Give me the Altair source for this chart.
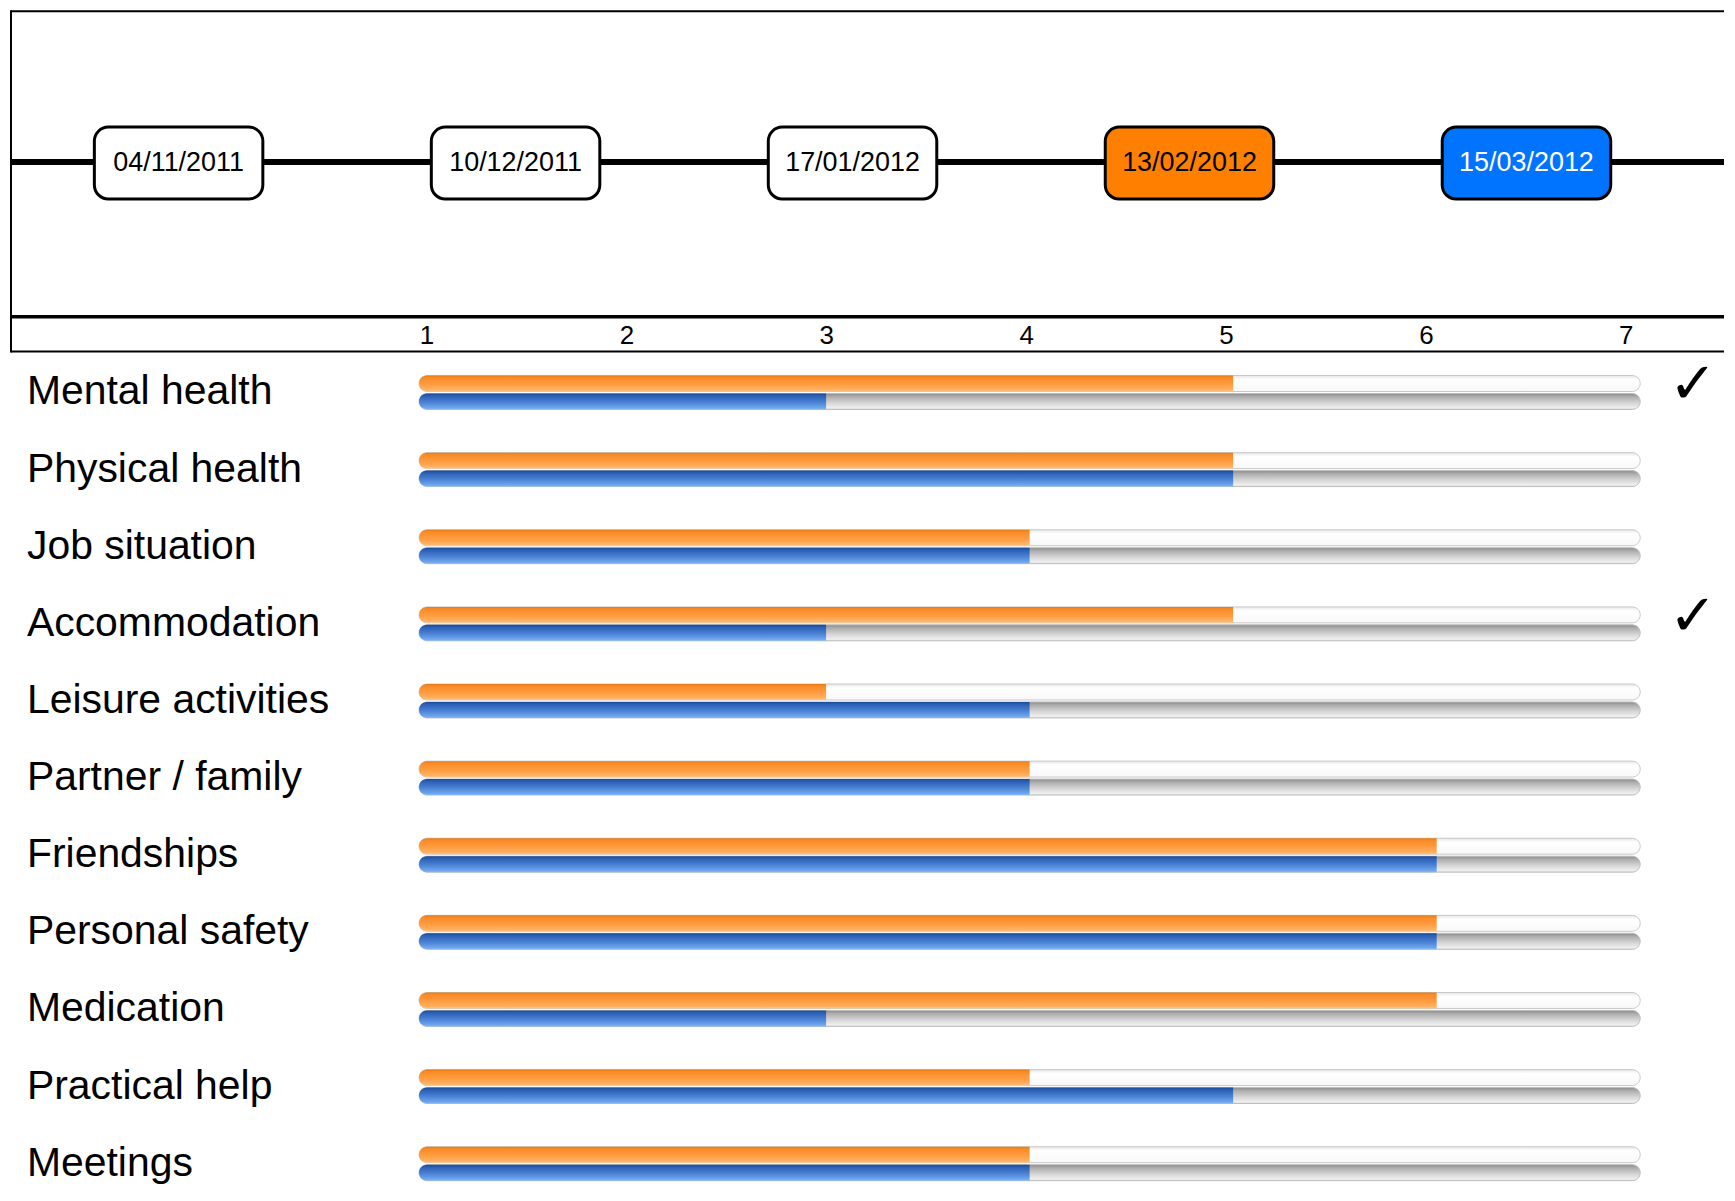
import altair as alt
import pandas as pd

# ---------------- data ----------------
categories = ["Mental health", "Physical health", "Job situation", "Accommodation",
              "Leisure activities", "Partner / family", "Friendships", "Personal safety",
              "Medication", "Practical help", "Meetings"]
orange_values = [4, 4, 3, 4, 2, 3, 5, 5, 5, 3, 3]   # 13/02/2012 assessment
blue_values = [2, 4, 3, 2, 3, 3, 5, 5, 2, 4, 3]     # 15/03/2012 assessment
checked = ["Mental health", "Accommodation"]
scale_max = 6

dates = ["04/11/2011", "10/12/2011", "17/01/2012", "13/02/2012", "15/03/2012"]
date_roles = ["other", "other", "other", "previous", "current"]
tick_labels = ["1", "2", "3", "4", "5", "6", "7"]

# ---------------- layout ----------------
W = 1719
H_TOP = 345
H_BOT = 840
FONT = "Liberation Sans"

one = pd.DataFrame({"k": [0]})
dates_df = pd.DataFrame({"date": dates, "pos": list(range(1, len(dates) + 1)), "role": date_roles})
ticks_df = pd.DataFrame({"tick": [int(t) for t in tick_labels], "label": tick_labels})

rows = []
for c, o, b in zip(categories, orange_values, blue_values):
    rows.append({"category": c, "series": "orange", "zero": 0, "value": o})
    rows.append({"category": c, "series": "blue", "zero": 0, "value": b})
bars_df = pd.DataFrame(rows)
tracks_df = pd.DataFrame({"category": categories, "zero": 0, "max": scale_max})
checks_df = pd.DataFrame({"category": checked})


def grad(stops):
    return {"gradient": "linear", "x1": 0, "x2": 0, "y1": 0, "y2": 1,
            "stops": [{"offset": o, "color": c} for o, c in stops]}


g_orange = grad([(0, "#E27A14"), (0.12, "#F88A26"), (0.55, "#FF9C40"), (0.9, "#FFB264"), (1, "#FFC58A")])
g_blue = grad([(0, "#1B4A98"), (0.15, "#2B5FB5"), (0.6, "#4F86D8"), (0.9, "#6FA6EE"), (1, "#86B8F4")])
g_gray = grad([(0, "#8A8A8A"), (0.2, "#ADADAD"), (0.6, "#D6D6D6"), (0.9, "#EFEFEF"), (1, "#DCDCDC")])
g_white = grad([(0, "#E6E6E6"), (0.25, "#FFFFFF"), (1, "#F8F8F8")])

# ---------------- top timeline ----------------
def hrule(y, sw):
    return alt.Chart(one).mark_rule(color="black", strokeWidth=sw).encode(
        x=alt.value(2), x2=alt.value(W), y=alt.value(y))

left_line = alt.Chart(one).mark_rule(color="black", strokeWidth=2).encode(
    x=alt.value(2), y=alt.value(0), y2=alt.value(343))

xbox = alt.Scale(domain=[1, 5], range=[170, 1521])

boxes = alt.Chart(dates_df).transform_calculate(
    x0="datum.pos - 0.25", x1="datum.pos + 0.25"
).mark_rect(cornerRadius=14, stroke="black", strokeWidth=3).encode(
    x=alt.X("x0:Q", scale=xbox, axis=None),
    x2="x1:Q",
    y=alt.value(117), y2=alt.value(189),
    color=alt.Color("role:N", scale=alt.Scale(domain=["other", "previous", "current"],
                                               range=["white", "#FF8000", "#0073FF"]), legend=None),
)

box_text = alt.Chart(dates_df).mark_text(fontSize=27, font=FONT, baseline="middle", align="center").encode(
    x=alt.X("pos:Q", scale=xbox, axis=None),
    y=alt.value(153),
    text="date:N",
    color=alt.Color("role:N", scale=alt.Scale(domain=["other", "previous", "current"],
                                               range=["black", "black", "white"]), legend=None),
)

tick_text = alt.Chart(ticks_df).mark_text(fontSize=26, font=FONT, baseline="middle", color="black").encode(
    x=alt.X("tick:Q", scale=alt.Scale(domain=[1, 7], range=[419, 1621]), axis=None),
    y=alt.value(326),
    text="label:N",
)

top = alt.layer(
    hrule(1, 2), left_line, hrule(152, 6), boxes, box_text, hrule(307, 3.5), hrule(342, 2), tick_text
).resolve_scale(x="independent", color="independent").properties(width=W, height=H_TOP)

# ---------------- bottom bars ----------------
ybase = alt.Y("category:N", sort=categories,
              scale=alt.Scale(domain=categories, range=[-0.65, 849.65], paddingInner=0, paddingOuter=0),
              axis=None)
xbar = alt.Scale(domain=[0, scale_max], range=[411, 1635])

orange_track = alt.Chart(tracks_df).mark_bar(
    height=16, yOffset=-9, cornerRadius=8, fill=g_white, stroke="#C8C8C8", strokeWidth=1
).encode(x=alt.X("zero:Q", scale=xbar, axis=None), x2="max:Q", y=ybase)

blue_track = alt.Chart(tracks_df).mark_bar(
    height=16, yOffset=9, cornerRadius=8, fill=g_gray, stroke="#BDBDBD", strokeWidth=1
).encode(x=alt.X("zero:Q", scale=xbar, axis=None), x2="max:Q", y=ybase)

orange_bar = alt.Chart(bars_df).transform_filter(alt.datum.series == "orange").mark_bar(
    height=16, yOffset=-9, cornerRadiusTopLeft=8, cornerRadiusBottomLeft=8, fill=g_orange
).encode(x=alt.X("zero:Q", scale=xbar, axis=None), x2="value:Q", y=ybase)

blue_bar = alt.Chart(bars_df).transform_filter(alt.datum.series == "blue").mark_bar(
    height=16, yOffset=9, cornerRadiusTopLeft=8, cornerRadiusBottomLeft=8, fill=g_blue
).encode(x=alt.X("zero:Q", scale=xbar, axis=None), x2="value:Q", y=ybase)

labels = alt.Chart(tracks_df).mark_text(
    align="left", baseline="middle", fontSize=41, font=FONT, color="black"
).encode(x=alt.value(18), y=ybase, text="category:N")

checks = alt.Chart(checks_df).mark_text(
    text="✓", fontSize=58, font="DejaVu Sans", baseline="middle", align="center", color="black", yOffset=-6
).encode(x=alt.value(1688), y=ybase)

bottom = alt.layer(orange_track, blue_track, orange_bar, blue_bar, labels, checks).properties(
    width=W, height=H_BOT)

chart = alt.vconcat(top, bottom, spacing=0).properties(padding=0).configure_view(
    strokeWidth=0).configure_concat(spacing=0)

chart.save("out.html", embed_options={"renderer": "svg", "actions": False})
